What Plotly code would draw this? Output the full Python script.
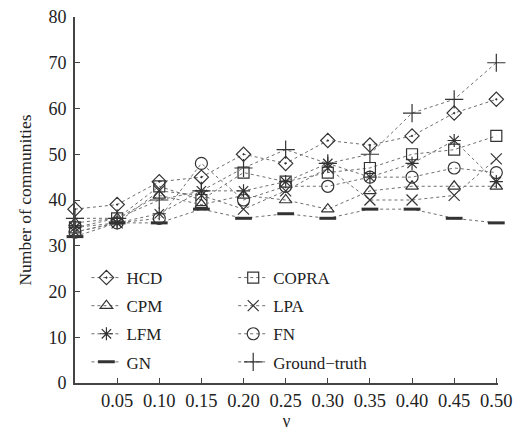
import plotly.graph_objects as go

gamma = [0.0, 0.05, 0.10, 0.15, 0.20, 0.25, 0.30, 0.35, 0.40, 0.45, 0.50]
x_tick_vals = [0.05, 0.10, 0.15, 0.20, 0.25, 0.30, 0.35, 0.40, 0.45, 0.50]
x_tick_text = ["0.05", "0.10", "0.15", "0.20", "0.25", "0.30", "0.35", "0.40", "0.45", "0.50"]
y_tick_vals = [0, 10, 20, 30, 40, 50, 60, 70, 80]

hcd = [38, 39, 44, 45, 50, 48, 53, 52, 54, 59, 62]
copra = [34, 36, 43, 40, 46, 44, 46, 47, 50, 51, 54]
cpm = [35, 36, 41, 39, 41, 40, 38, 42, 43, 43, 43]
lpa = [33, 35, 42, 41, 38, 42, 47, 40, 40, 41, 49]
lfm = [34, 35, 37, 42, 42, 44, 48, 45, 48, 53, 44]
fn = [33, 35, 36, 48, 40, 43, 43, 45, 45, 47, 46]
gn = [32, 35, 35, 38, 36, 37, 36, 38, 38, 36, 35]
ground_truth = [36, 36, 40, 42, 47, 51, 48, 50, 59, 62, 70]

series = [
    ("HCD", hcd, "diamond-open-dot", 11, "legend"),
    ("COPRA", copra, "square-open", 11, "legend2"),
    ("CPM", cpm, "triangle-up-open", 11, "legend"),
    ("LPA", lpa, "x-thin-open", 11, "legend2"),
    ("LFM", lfm, "asterisk-open", 11, "legend"),
    ("FN", fn, "circle-open", 12, "legend2"),
    ("GN", gn, "line-ew-open", 12, "legend"),
    ("Ground−truth", ground_truth, "cross-thin-open", 13, "legend2"),
]

fig = go.Figure()
for i, (name, vals, sym, size, leg) in enumerate(series):
    mlw = 3 if name == "GN" else 1.2
    fig.add_trace(go.Scatter(
        x=gamma, y=vals, name=name, mode="lines+markers",
        line=dict(color="#6f6f6f", width=1, dash="dot"),
        marker=dict(symbol=sym, size=size, color="#333333",
                    line=dict(color="#333333", width=mlw)),
        cliponaxis=False, legend=leg, legendgroup="g%d" % i,
    ))

font_family = "Liberation Serif"
legend_common = dict(
    yanchor="top", y=0.336, xanchor="left",
    bgcolor="rgba(0,0,0,0)", borderwidth=0,
    font=dict(family=font_family, size=17, color="#222"),
    tracegroupgap=3, itemwidth=30,
)

# The page body adds an 8px offset, so margins are compensated.
fig.update_layout(
    width=528, height=427,
    margin=dict(l=67, r=38, t=9, b=52, autoexpand=False),
    paper_bgcolor="white", plot_bgcolor="white",
    font=dict(family=font_family, size=17, color="#222"),
    legend=dict(x=0.027, **legend_common),
    legend2=dict(x=0.374, **legend_common),
    xaxis=dict(
        range=[0, 0.502], tickmode="array", tickvals=x_tick_vals, ticktext=x_tick_text,
        showline=True, linecolor="#444", linewidth=2, ticks="inside", ticklen=5,
        tickcolor="#444", showgrid=False, zeroline=False, ticklabelstandoff=0,
        automargin=False, ticklabeloverflow="allow",
        title=dict(text="γ", standoff=3, font=dict(size=17)), tickfont=dict(size=18.5),
    ),
    yaxis=dict(
        range=[0, 80], tickmode="array", tickvals=y_tick_vals,
        showline=True, linecolor="#444", linewidth=2, ticks="inside", ticklen=5,
        tickcolor="#444", showgrid=False, zeroline=False, ticklabelstandoff=3,
        automargin=False, ticklabeloverflow="allow",
        title=dict(text="Number of communities", standoff=12, font=dict(size=17.5)),
        tickfont=dict(size=18),
    ),
)

fig.write_html("out.html")
